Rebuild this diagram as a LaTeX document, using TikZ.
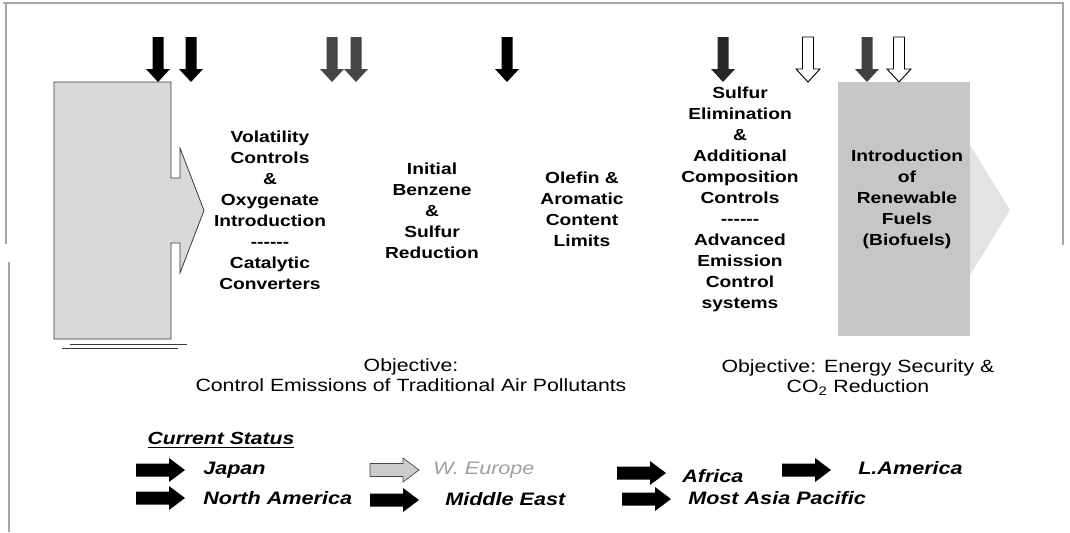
\documentclass[tikz,border=0pt]{standalone}
\usepackage{fontspec}
\setmainfont{Liberation Sans}[FakeStretch=1.2]
\newcommand\dashrow{-\kern0pt-\kern0pt-\kern0pt-\kern0pt-\kern0pt-}
\begin{document}
\begin{tikzpicture}[x=0.75pt,y=-0.75pt,
  dn/.pic={\path[pic actions] (-5.5,0) -- (5.5,0) -- (5.5,32) -- (12,32) -- (0,45) -- (-12,32) -- (-5.5,32) -- cycle;},
  rt/.pic={\path[pic actions] (0,-6.5) -- (33,-6.5) -- (33,-12) -- (49,0) -- (33,12) -- (33,6.5) -- (0,6.5) -- cycle;},
  stage/.style={align=center, font=\bfseries\fontsize{12}{15.75}\selectfont, inner sep=0},
  obj/.style={align=center, font=\fontsize{13.3}{15}\selectfont, inner sep=0},
  lg/.style={anchor=west, font=\bfseries\itshape\fontsize{13.5}{16}\selectfont, inner sep=0},
  frameline/.style={draw=gray!70, line width=0.8pt}]
\useasboundingbox (0,0) rectangle (1070,532);
% frame
\draw[frameline] (3,3) -- (1063,3) -- (1063,245);
\draw[frameline] (6,3) -- (6,244);
\draw[frameline] (9,262) -- (9,532);
% left grey box with arrow
\path[fill=gray!30, draw=gray!45!black, line width=0.6pt]
  (54,82) -- (171,82) -- (171,178) -- (180,178) -- (180,148) -- (204,210.5)
  -- (180,273) -- (180,243) -- (171,243) -- (171,339) -- (54,339) -- cycle;
\draw[gray!45!black, line width=0.5pt] (70,344) -- (187,344) (62,348) -- (178,348);
% right grey box with arrow
\fill[gray!22] (970,145) -- (1010,210) -- (970,275) -- cycle;
\fill[gray!45] (838,82) rectangle (970,336);
% down arrows
\pic[fill=black] at (158,37) {dn};
\pic[fill=black] at (191,37) {dn};
\pic[fill=gray!55!black] at (332,37) {dn};
\pic[fill=gray!55!black] at (356,37) {dn};
\pic[fill=black] at (507,37) {dn};
\pic[fill=black!85] at (723,37) {dn};
\pic[fill=white, draw=black, line width=0.7pt] at (808,37) {dn};
\pic[fill=gray!50!black] at (867,37) {dn};
\pic[fill=white, draw=black, line width=0.7pt] at (899,37) {dn};
% stage texts
\node[stage] (s1) at (270,210) {Volatility\\Controls\\\&\\Oxygenate\\Introduction\\\dashrow\\Catalytic\\Converters};
\node[stage] (s2) at (432,210.5) {Initial\\Benzene\\\&\\Sulfur\\Reduction};
\node[stage] (s3) at (582,209.5) {Olefin \&\\Aromatic\\Content\\Limits};
\node[stage] (s4) at (740,199.5) {Sulfur\\Elimination\\\&\\Additional\\Composition\\Controls\\\dashrow\\Advanced\\Emission\\Control\\systems};
\node[stage] (s5) at (907,199) {Introduction\\of\\Renewable\\Fuels\\(Biofuels)};
% objectives
\node[obj] (o1) at (411,375) {Objective:\\Control Emissions of Traditional Air Pollutants};
\node[obj] (o2) at (858,378) {Objective: Energy Security \&\\CO\textsubscript{2} Reduction};
% current status
\node[inner sep=0, font=\bfseries\itshape\fontsize{13.2}{15}\selectfont] (cs) at (221,440) {\underline{Current Status}};
\pic[fill=black] at (136,470) {rt};
\node[lg] (t1) at (203,470) {Japan};
\pic[fill=gray!40, draw=gray!55!black, line width=0.5pt] at (370,470) {rt};
\node[lg, font=\itshape\fontsize{13.5}{16}\selectfont, text=gray!75] (t2) at (433,470) {W. Europe};
\pic[fill=black] at (617,473) {rt};
\node[lg] (t3) at (682,476) {Africa};
\pic[fill=black] at (782,470) {rt};
\node[lg] (t4) at (858,468) {L.America};
\pic[fill=black] at (136,498) {rt};
\node[lg] (t5) at (203,498) {North America};
\pic[fill=black] at (370,500) {rt};
\node[lg] (t6) at (445,499) {Middle East};
\pic[fill=black] at (622,499) {rt};
\node[lg] (t7) at (688,498) {Most Asia Pacific};
\end{tikzpicture}
\end{document}
